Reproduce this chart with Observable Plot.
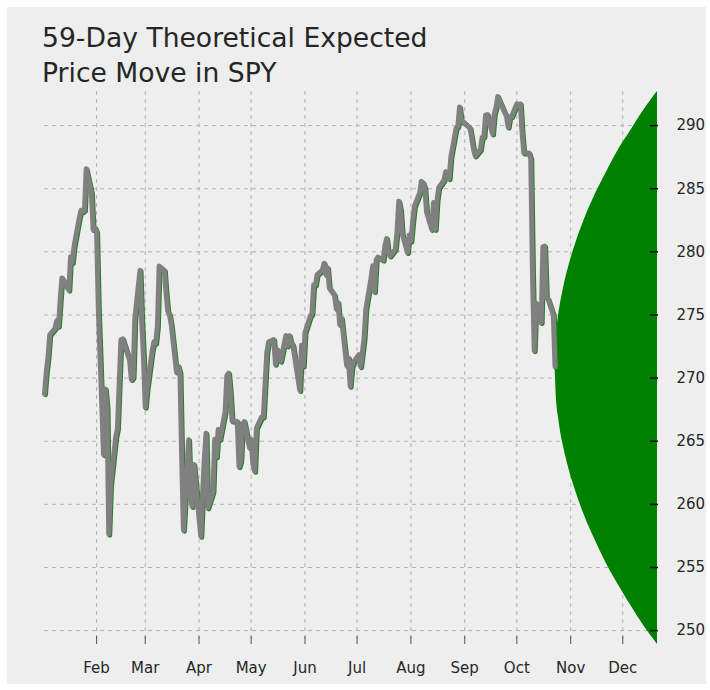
<!DOCTYPE html>
<html><head><meta charset="utf-8">
<script src="https://cdn.jsdelivr.net/npm/d3@7"></script>
<script src="https://cdn.jsdelivr.net/npm/@observablehq/plot@0.6"></script>
<style>
body{margin:0;background:#fff;width:710px;height:690px;position:relative;overflow:hidden}
#bg{position:absolute;left:7px;top:7px;width:699px;height:677px;background:#eeeeee}
#title{position:absolute;left:42px;top:20px;font-family:"DejaVu Sans";font-size:26.6px;line-height:35px;color:#262626;white-space:nowrap}
#chart{position:absolute;left:0;top:90px}
</style></head><body>
<div id="bg"></div>
<div id="title">59-Day Theoretical Expected<br>Price Move in SPY</div>
<div id="chart"></div>
<script>
// SPY daily closes, 2018 (month-day)
const tradeDays = [
 "01-02","01-03","01-04","01-05","01-08","01-09","01-10","01-11","01-12","01-16","01-17","01-18","01-19","01-22","01-23","01-24","01-25","01-26","01-29","01-30","01-31",
 "02-01","02-02","02-05","02-06","02-07","02-08","02-09","02-12","02-13","02-14","02-15","02-16","02-20","02-21","02-22","02-23","02-26","02-27","02-28",
 "03-01","03-02","03-05","03-06","03-07","03-08","03-09","03-12","03-13","03-14","03-15","03-16","03-19","03-20","03-21","03-22","03-23","03-26","03-27","03-28","03-29",
 "04-02","04-03","04-04","04-05","04-06","04-09","04-10","04-11","04-12","04-13","04-16","04-17","04-18","04-19","04-20","04-23","04-24","04-25","04-26","04-27","04-30",
 "05-01","05-02","05-03","05-04","05-07","05-08","05-09","05-10","05-11","05-14","05-15","05-16","05-17","05-18","05-21","05-22","05-23","05-24","05-25","05-29","05-30","05-31",
 "06-01","06-04","06-05","06-06","06-07","06-08","06-11","06-12","06-13","06-14","06-15","06-18","06-19","06-20","06-21","06-22","06-25","06-26","06-27","06-28","06-29",
 "07-02","07-03","07-05","07-06","07-09","07-10","07-11","07-12","07-13","07-16","07-17","07-18","07-19","07-20","07-23","07-24","07-25","07-26","07-27","07-30","07-31",
 "08-01","08-02","08-03","08-06","08-07","08-08","08-09","08-10","08-13","08-14","08-15","08-16","08-17","08-20","08-21","08-22","08-23","08-24","08-27","08-28","08-29","08-30","08-31",
 "09-04","09-05","09-06","09-07","09-10","09-11","09-12","09-13","09-14","09-17","09-18","09-19","09-20","09-21","09-24","09-25","09-26","09-27","09-28",
 "10-01","10-02","10-03","10-04","10-05","10-08","10-09","10-10","10-11","10-12","10-15","10-16","10-17","10-18","10-19","10-22","10-23"
];
const closes = [
 268.77,270.47,271.61,273.42,273.92,274.54,274.12,276.12,277.92,276.97,279.61,279.14,280.41,282.69,283.29,283.18,283.30,286.58,284.68,281.76,281.90,
 281.58,275.45,263.93,269.13,267.67,257.63,261.50,265.34,266.00,269.59,273.03,273.11,271.40,269.88,270.05,274.71,278.55,274.43,271.65,
 267.70,269.08,272.19,272.88,272.78,274.10,278.87,278.52,276.72,275.30,275.00,274.20,270.49,270.95,270.43,263.67,257.95,265.11,260.60,259.83,263.15,
 257.47,260.77,263.56,265.64,259.72,261.00,265.15,263.76,265.93,265.15,267.33,270.19,270.39,268.89,266.61,266.57,262.98,263.43,266.31,266.56,264.51,
 265.15,263.18,262.62,266.02,266.92,266.92,269.50,272.02,272.85,273.05,271.10,272.24,272.01,271.33,273.37,272.55,273.36,272.81,272.61,269.02,272.61,270.94,
 273.60,274.90,275.10,277.40,277.37,278.19,278.56,279.10,278.19,278.73,277.13,276.56,275.50,275.97,274.24,274.74,271.00,271.60,269.35,270.89,271.28,
 271.86,270.90,273.11,275.42,277.90,278.90,276.86,279.37,279.59,279.34,280.47,281.06,279.99,279.68,280.20,281.61,284.01,283.34,281.42,279.95,281.33,
 280.86,282.39,283.60,284.64,285.58,285.46,285.07,283.16,281.78,283.90,281.78,284.06,285.06,285.67,286.34,286.17,285.79,287.51,289.78,289.92,291.48,290.30,290.31,
 289.81,289.03,288.16,287.60,288.10,289.05,289.12,290.83,290.88,289.34,290.91,291.44,292.30,291.99,291.02,290.75,289.88,290.69,290.72,
 291.73,291.56,291.72,289.44,287.82,287.82,287.40,278.30,272.17,275.95,274.40,280.40,280.45,276.40,276.25,275.01,270.90
];
// expected-move cone
const coneDays  = ["2018-10-23","2018-10-24","2018-10-25","2018-10-26","2018-10-28","2018-10-31","2018-11-04","2018-11-09","2018-11-15","2018-11-22","2018-11-29","2018-12-06","2018-12-13","2018-12-21"];
const coneUpper = [270.9,273.7,274.9,275.8,277.2,278.9,280.7,282.6,284.5,286.4,288.2,289.7,291.2,292.7];
const coneLower = [270.9,268.0,266.9,265.9,264.5,262.8,261.0,259.1,257.2,255.2,253.5,251.9,250.4,248.9];
const monthTicks = ["2018-02-01","2018-03-01","2018-04-01","2018-05-01","2018-06-01","2018-07-01","2018-08-01","2018-09-01","2018-10-01","2018-11-01","2018-12-01"];
const yTicks = [250,255,260,265,270,275,280,285,290];

const parse = d3.utcParse("%Y-%m-%d");
const prices = tradeDays.map((d,i)=>({date: parse("2018-"+d), close: closes[i]}));
const cone = coneDays.map((d,i)=>({date: parse(d), lower: coneLower[i], upper: coneUpper[i]}));
const xTicks = monthTicks.map(parse);
const gridStyle = {stroke:"#b2b2b2", strokeOpacity:1, strokeWidth:1, strokeDasharray:"4,4"};

const chart = Plot.plot({
  width: 710, height: 600,
  marginLeft: 44, marginRight: 53, marginTop: 1, marginBottom: 46,
  style: {background:"transparent", fontFamily:"DejaVu Sans", fontSize:"15px", color:"#262626", overflow:"visible"},
  x: {type:"utc", domain:[parse("2018-01-02"), parse("2018-12-21")]},
  y: {domain:[248.9, 292.7]},
  marks: [
    Plot.gridX(xTicks, gridStyle),
    Plot.gridY(yTicks, gridStyle),
    Plot.areaY(cone, {x:"date", y1:"lower", y2:"upper", fill:"#008000", curve:"monotone-x"}),
    Plot.lineY(prices, {x:"date", y:"close", stroke:"#2a7d2a", strokeWidth:5, dx:1, dy:1, strokeLinejoin:"round"}),
    Plot.lineY(prices, {x:"date", y:"close", stroke:"#808080", strokeWidth:5, strokeLinejoin:"round"}),
    Plot.axisX(xTicks, {tickSize:-8, tickPadding:26, tickFormat:d3.utcFormat("%b"), stroke:"#555", label:null}),
    Plot.axisY(yTicks, {anchor:"right", tickSize:-8, tickPadding:27, strokeWidth:1.5, stroke:"#111", label:null})
  ]
});
document.getElementById("chart").appendChild(chart);
</script></body></html>
